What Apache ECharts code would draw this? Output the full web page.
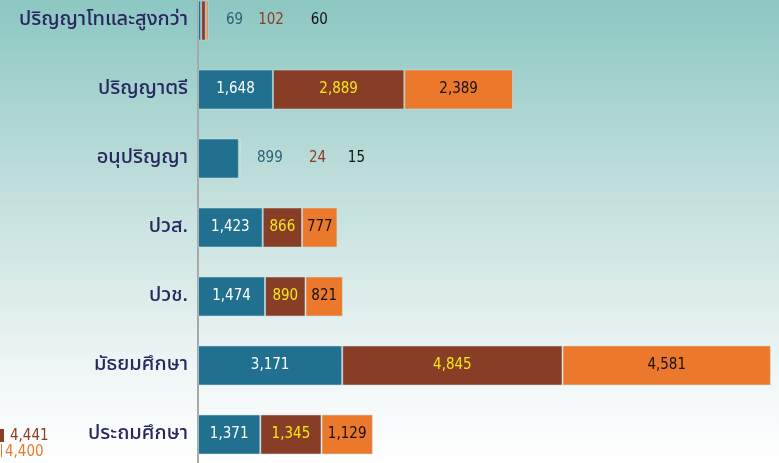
<!DOCTYPE html>
<html>
<head>
<meta charset="utf-8">
<script src="https://cdn.jsdelivr.net/npm/echarts@6/dist/echarts.min.js"></script>
<style>
  html, body { margin: 0; padding: 0; }
  #chart { width: 779px; height: 463px; }
</style>
</head>
<body>
<div id="chart"></div>
<script>
// education level (top to bottom)
const categories = ['ปริญญาโทและสูงกว่า', 'ปริญญาตรี', 'อนุปริญญา', 'ปวส.', 'ปวช.', 'มัธยมศึกษา', 'ประถมศึกษา'];
const seriesA = [69, 1648, 899, 1423, 1474, 3171, 1371];
const seriesB = [102, 2889, 24, 866, 890, 4845, 1345];
const seriesC = [60, 2389, 15, 777, 821, 4581, 1129];
// stray legend numbers in the bottom-left corner
const cornerValues = ['4,441', '4,400'];

const colors = ['#21708f', '#873d26', '#ec782b'];
const insideText = ['#ffffff', '#f7e81a', '#111111'];
const outsideText = ['#2a6079', '#8e3c22', '#111111'];
const numFont = '"DejaVu Sans Condensed", "DejaVu Sans", sans-serif';

// rows whose bars are too thin: label offset from the bar's left edge
const outsideOffsets = {
    0: [28, 57, 105],
    2: [59, 70, 108]
};

function buildData(values, s) {
    return values.map((v, i) => {
        const item = { value: v };
        if (outsideOffsets[i]) {
            item.label = {
                position: [outsideOffsets[i][s], '50%'],
                align: 'left',
                verticalAlign: 'middle',
                color: outsideText[s]
            };
        }
        return item;
    });
}

const chart = echarts.init(document.getElementById('chart'));

const seriesList = [seriesA, seriesB, seriesC].map((vals, s) => ({
    type: 'bar',
    stack: 'total',
    barWidth: 40,
    data: buildData(vals, s),
    itemStyle: {
        color: colors[s],
        borderColor: 'rgba(200,225,230,0.55)',
        borderWidth: 1
    },
    label: {
        show: true,
        position: 'inside',
        color: insideText[s],
        fontFamily: numFont,
        fontSize: 15,
        formatter: p => p.value.toLocaleString('en-US')
    },
    emphasis: { disabled: true },
    animation: false
}));

chart.setOption({
    backgroundColor: new echarts.graphic.LinearGradient(0, 0, 0, 1, [
        { offset: 0, color: '#8cc7c2' },
        { offset: 0.45, color: '#c6e1de' },
        { offset: 0.8, color: '#eff6f6' },
        { offset: 1, color: '#ffffff' }
    ]),
    animation: false,
    grid: { left: 198, right: 8, top: -14, bottom: -6, outerBoundsMode: 'none', containLabel: false },
    xAxis: {
        type: 'value',
        min: 0,
        max: 12600,
        show: false
    },
    yAxis: {
        type: 'category',
        inverse: true,
        data: categories,
        axisLine: { show: true, lineStyle: { color: '#a8a8a8', width: 2 } },
        axisTick: { show: false },
        axisLabel: {
            color: '#28285f',
            fontSize: 20,
            fontWeight: 500,
            margin: 10,
            fontFamily: 'Tahoma, "Noto Sans Thai", "Noto Sans", sans-serif'
        }
    },
    series: seriesList,
    graphic: [
        { type: 'rect', shape: { x: 0, y: 429, width: 4, height: 13 }, style: { fill: colors[1] } },
        { type: 'text', x: 10, y: 436, style: { text: cornerValues[0], fill: colors[1], font: '15px ' + numFont, verticalAlign: 'middle' } },
        { type: 'rect', shape: { x: 1, y: 444, width: 1, height: 13 }, style: { fill: colors[2] } },
        { type: 'text', x: 5, y: 452, style: { text: cornerValues[1], fill: colors[2], font: '15px ' + numFont, verticalAlign: 'middle' } }
    ]
});
</script>
</body>
</html>
